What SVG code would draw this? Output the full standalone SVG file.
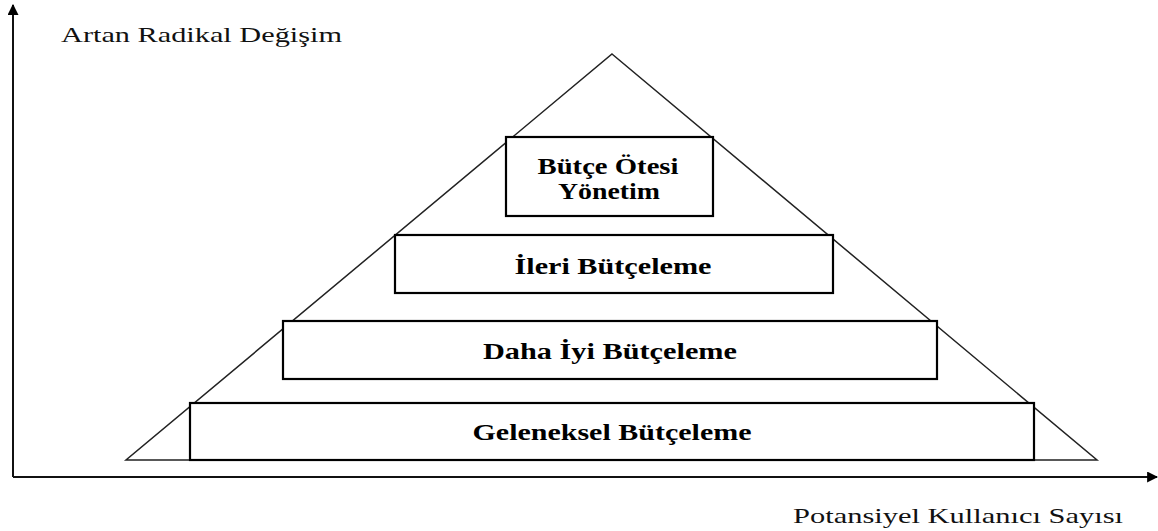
<svg xmlns="http://www.w3.org/2000/svg" width="1158" height="531" viewBox="0 0 1158 531">
<style>
.axis{stroke:#111;stroke-width:2;fill:none}
.tri{stroke:#222;stroke-width:1.5;fill:none}
.box{stroke:#000;stroke-width:2.2;fill:#fff}
.lbl{font-family:"Liberation Serif","Times New Roman",serif;font-size:22px;fill:#111}
.bl{font-family:"Liberation Serif","Times New Roman",serif;font-size:23px;font-weight:bold;fill:#000}
</style>
<defs>
<marker id="ah" viewBox="0 0 10 10" refX="9" refY="5" markerWidth="11" markerHeight="11" markerUnits="userSpaceOnUse" orient="auto">
<path d="M0,0 L10,5 L0,10 Z" fill="#000"/>
</marker>
</defs>
<rect width="1158" height="531" fill="#fff"/>
<g id="connectors">
<line class="axis" x1="13" y1="477" x2="13" y2="5" marker-end="url(#ah)"/>
<line class="axis" x1="13" y1="477" x2="1157" y2="477" marker-end="url(#ah)"/>
</g>
<g id="pyramid">
<polygon class="tri" points="612,54 1097,460 126,460"/>
</g>
<g id="node-traditional">
<rect class="box" x="190" y="403" width="844" height="57"/>
<text class="bl" x="612" y="440" text-anchor="middle" textLength="279" lengthAdjust="spacingAndGlyphs">Geleneksel Bütçeleme</text>
</g>
<g id="node-better">
<rect class="box" x="283" y="321" width="654" height="58"/>
<text class="bl" x="610" y="359" text-anchor="middle" textLength="254" lengthAdjust="spacingAndGlyphs">Daha İyi Bütçeleme</text>
</g>
<g id="node-advanced">
<rect class="box" x="395" y="235" width="438" height="58"/>
<text class="bl" x="613" y="274" text-anchor="middle" textLength="197" lengthAdjust="spacingAndGlyphs">İleri Bütçeleme</text>
</g>
<g id="node-beyond">
<rect class="box" x="506" y="137" width="207" height="79"/>
<text class="bl" x="608" y="174" text-anchor="middle" textLength="141" lengthAdjust="spacingAndGlyphs">Bütçe Ötesi</text>
<text class="bl" x="609" y="199" text-anchor="middle" textLength="102" lengthAdjust="spacingAndGlyphs">Yönetim</text>
</g>
<g id="label-y">
<text class="lbl" x="61" y="42" textLength="281" lengthAdjust="spacingAndGlyphs">Artan Radikal Değişim</text>
</g>
<g id="label-x">
<text class="lbl" x="793" y="523" textLength="330" lengthAdjust="spacingAndGlyphs">Potansiyel Kullanıcı Sayısı</text>
</g>
</svg>
